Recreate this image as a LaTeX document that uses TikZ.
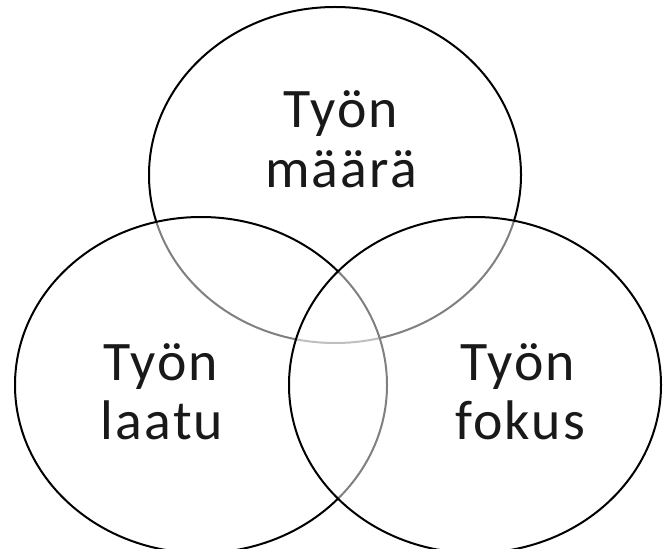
\documentclass[tikz,border=0pt]{standalone}
\usepackage{fontspec}
\setmainfont{Carlito}[LetterSpace=4]
\usetikzlibrary{shapes.geometric}
\begin{document}
\begin{tikzpicture}[x=1bp,y=-1bp,
  venn/.style={ellipse, draw=black, line width=2bp, fill=white, fill opacity=0.5, draw opacity=1,
    minimum width=372bp, minimum height=336bp, inner sep=0pt},
  lbl/.style={anchor=base, inner sep=0pt, font=\fontsize{56}{60}\selectfont, text=black!90}]
\useasboundingbox[fill=white] (0,0) rectangle (663,549);
\node[venn] (top) at (335,175) {};
\node[venn] (left) at (201,385) {};
\node[venn] (right) at (475,385) {};
\node[lbl] (t1) at (341,128) {Työn};
\node[lbl] (t2) at (341,188) {määrä};
\node[lbl] (l1) at (161,380) {Työn};
\node[lbl] (l2) at (162,439) {laatu};
\node[lbl] (r1) at (518,380) {Työn};
\node[lbl] (r2) at (520,439) {fokus};
\end{tikzpicture}
\end{document}
